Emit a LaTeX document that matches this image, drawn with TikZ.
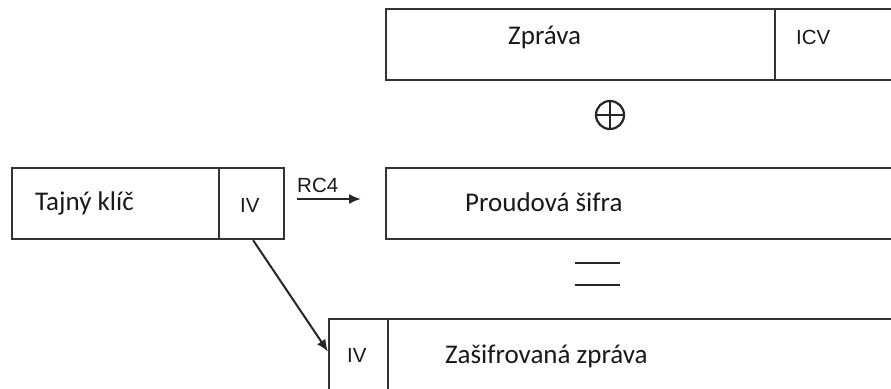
\documentclass[tikz,border=0pt]{standalone}
\usepackage{fontspec}
\setmainfont{Carlito}
\newfontfamily\arialf{Liberation Sans}
\usetikzlibrary{arrows.meta}
\begin{document}
\begin{tikzpicture}[x=1pt,y=-1pt,
  field/.style={draw=black!80, line width=2.2pt, rectangle, inner sep=0pt, anchor=north west},
  lbl/.style={anchor=base west, inner sep=0pt, font=\fontsize{27}{30}\selectfont, text=black!90},
  slbl/.style={anchor=base west, inner sep=0pt, font=\arialf\fontsize{20.5}{23}\selectfont, text=black!90},
  conn/.style={draw=black!85, line width=2pt, -{Latex[length=12pt,width=10pt]}},
  sym/.style={draw=black!85, line width=2.2pt}]
\useasboundingbox (0,0) rectangle (891,388);
\fill[white] (0,0) rectangle (891,388);
\clip (0,0) rectangle (891,388);
% top row
\node[field, minimum width=389pt, minimum height=71pt] (zprava) at (385,8) {};
\node[field, minimum width=130pt, minimum height=71pt] (icv) at (774,8) {};
\node[lbl] (tzprava) at (508,44) {Zpráva};
\node[slbl] (ticv) at (796,44) {ICV};
% xor
\node[circle, sym, minimum size=28pt, inner sep=0pt] (xor) at (610,115) {};
\draw[sym] (xor.north) -- (xor.south);
\draw[sym] (xor.west) -- (xor.east);
% key stream
\node[field, minimum width=520pt, minimum height=71pt] (sifra) at (385,167) {};
\node[lbl] (tsifra) at (465,211) {Proudová šifra};
% secret key
\node[field, minimum width=207pt, minimum height=71pt] (klic) at (11,167) {};
\node[field, minimum width=65pt, minimum height=71pt] (iva) at (218,167) {};
\node[lbl] (tklic) at (35,210) {Tajný klíč};
\node[slbl] (tiva) at (240,212) {IV};
% RC4 arrow
\coordinate (rcs) at (297,199);
\coordinate (rce) at (361,199);
\draw[conn] (rcs) -- (rce);
\node[slbl] (trc) at (297,192) {RC4};
% equals
\draw[sym] (575,263) -- (620,263);
\draw[sym] (575,285) -- (620,285);
% encrypted
\node[field, minimum width=59pt, minimum height=71pt] (ivb) at (328,318) {};
\node[field, minimum width=520pt, minimum height=71pt] (enc) at (387,318) {};
\node[slbl] (tivb) at (347,362) {IV};
\node[lbl] (tenc) at (445,363) {Zašifrovaná zpráva};
% IV arrow
\draw[conn] ([xshift=1.5pt]iva.south) -- ([yshift=3pt]ivb.west);
\end{tikzpicture}
\end{document}
